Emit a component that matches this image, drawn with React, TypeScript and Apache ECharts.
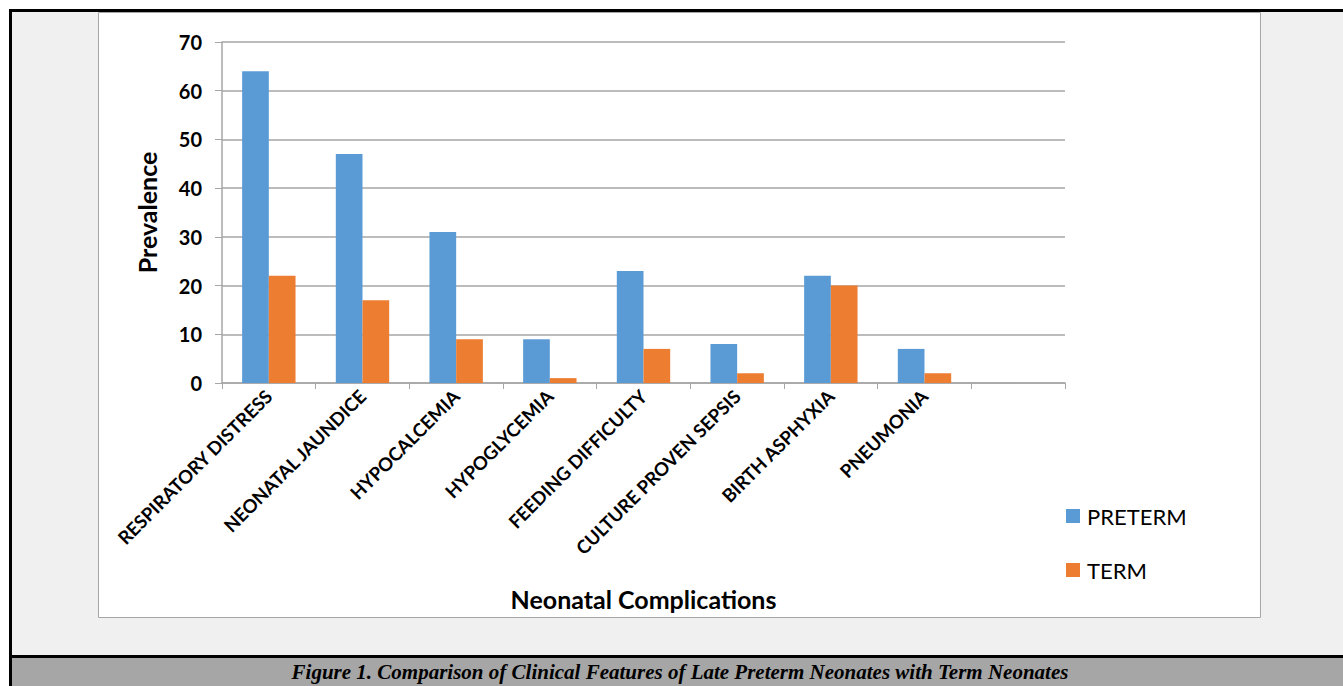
import React, { useEffect, useRef } from "react";
import * as echarts from "echarts";

const categories = [
  "RESPIRATORY DISTRESS",
  "NEONATAL JAUNDICE",
  "HYPOCALCEMIA",
  "HYPOGLYCEMIA",
  "FEEDING DIFFICULTY",
  "CULTURE PROVEN SEPSIS",
  "BIRTH ASPHYXIA",
  "PNEUMONIA",
  "",
];
const preterm = [64, 47, 31, 9, 23, 8, 22, 7, null];
const term = [22, 17, 9, 1, 7, 2, 20, 2, null];
const yTicks = { min: 0, max: 70, interval: 10 };
const caption =
  "Figure 1. Comparison of Clinical Features of Late Preterm Neonates with Term Neonates";

const W = 1343;
const H = 686;
const SANS = "Lato, 'Open Sans', sans-serif";

export default function App() {
  const ref = useRef<HTMLDivElement>(null);
  useEffect(() => {
    if (!ref.current) return;
    const chart = echarts.init(ref.current, undefined, { renderer: "svg" });
    chart.setOption({
      animation: false,
      backgroundColor: "#ffffff",
      graphic: [
        { type: "rect", shape: { x: 12, y: 12, width: W - 12, height: 643 }, style: { fill: "#f0f0f0" }, z: -10 },
        {
          type: "rect",
          shape: { x: 98.5, y: 12.5, width: 1162, height: 605 },
          style: { fill: "#ffffff", stroke: "#a6a6a6", lineWidth: 1 },
          z: -9,
        },
        { type: "rect", shape: { x: 12, y: 658, width: W - 12, height: 28 }, style: { fill: "#a6a6a6" }, z: -10 },
        { type: "rect", shape: { x: 9, y: 9, width: W - 9, height: 3 }, style: { fill: "#000" }, z: -5 },
        { type: "rect", shape: { x: 9, y: 9, width: 3, height: H - 9 }, style: { fill: "#000" }, z: -5 },
        { type: "rect", shape: { x: 9, y: 655, width: W - 9, height: 3 }, style: { fill: "#000" }, z: -5 },
        {
          type: "text",
          x: 680,
          y: 672,
          style: {
            text: caption,
            fill: "#000",
            font: "italic bold 21px 'Liberation Serif', serif",
            textAlign: "center",
            textVerticalAlign: "middle",
          },
          z: 5,
        },
      ],
      legend: {
        orient: "vertical",
        left: 1061,
        top: 500,
        itemWidth: 14,
        itemHeight: 14,
        itemGap: 32,
        icon: "rect",
        textStyle: { fontFamily: SANS, fontSize: 22, color: "#000", padding: [0, 0, 0, 2] },
        data: ["PRETERM", "TERM"],
      },
      grid: { left: 222, right: W - 1065, top: 42, bottom: H - 383, containLabel: false },
      xAxis: {
        type: "category",
        data: categories,
        name: "Neonatal Complications",
        nameLocation: "middle",
        nameGap: 203,
        nameTextStyle: { fontFamily: SANS, fontWeight: "bold", fontSize: 25, color: "#000" },
        axisLine: { lineStyle: { color: "#a6a6a6", width: 1.5 } },
        axisTick: { show: true, length: 6, lineStyle: { color: "#a6a6a6" } },
        axisLabel: {
          interval: 0,
          rotate: 45,
          margin: 10,
          fontFamily: SANS,
          fontWeight: "bold",
          fontSize: 18.5,
          color: "#000",
        },
      },
      yAxis: {
        type: "value",
        min: yTicks.min,
        max: yTicks.max,
        interval: yTicks.interval,
        name: "Prevalence",
        nameLocation: "middle",
        nameGap: 63,
        nameRotate: 90,
        nameTextStyle: { fontFamily: SANS, fontWeight: "bold", fontSize: 25, color: "#000" },
        axisLine: { show: true, lineStyle: { color: "#a6a6a6", width: 1.5 } },
        axisTick: { show: true, length: 7, lineStyle: { color: "#a6a6a6" } },
        splitLine: { lineStyle: { color: "#a6a6a6", width: 1.5 } },
        axisLabel: { fontFamily: SANS, fontWeight: "bold", fontSize: 20, color: "#000", margin: 20 },
      },
      series: [
        {
          name: "PRETERM",
          type: "bar",
          data: preterm,
          itemStyle: { color: "#5b9bd5" },
          barGap: "0%",
          barCategoryGap: "43%",
        },
        {
          name: "TERM",
          type: "bar",
          data: term,
          itemStyle: { color: "#ed7d31" },
        },
      ],
    });
    return () => chart.dispose();
  }, []);
  return (
    <div
      ref={ref}
      style={{ position: "fixed", left: 0, top: 0, width: W, height: H }}
    />
  );
}
